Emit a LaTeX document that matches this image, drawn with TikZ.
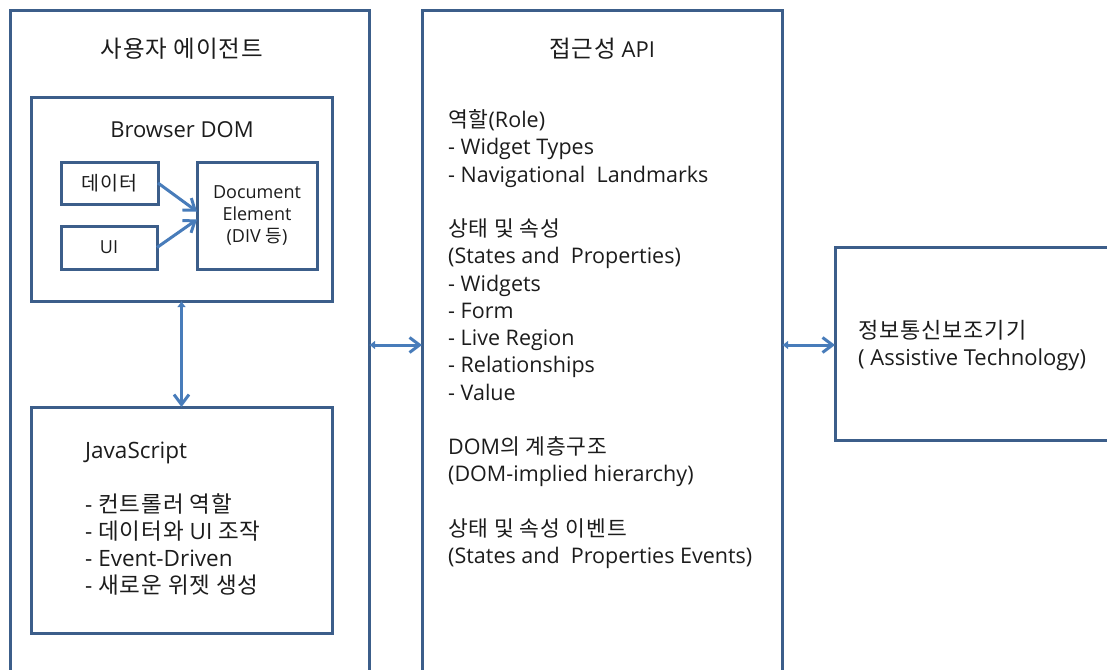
\documentclass[tikz,border=0pt]{standalone}
\usepackage{fontspec}
\setmainfont{Open Sans}
\newfontfamily\kofont{Noto Sans CJK KR}[LetterSpace=4]
\newcommand\ko[1]{{\kofont #1}}
\newcommand\kobig[1]{{\kofont\fontsize{23.5}{26}\selectfont #1}}
\usetikzlibrary{arrows.meta}

\definecolor{framecol}{RGB}{60,94,138}
\definecolor{linkcol}{RGB}{72,124,186}
\definecolor{inkcol}{RGB}{28,28,28}

\tikzset{
  frame/.style={draw=framecol, line width=3pt, inner sep=0pt, outer sep=0pt,
    anchor=north west, text=inkcol},
  item/.style={anchor=base west, inner sep=0pt, text=inkcol,
    font=\fontsize{21.5}{24}\selectfont},
  title/.style={anchor=base, inner sep=0pt, text=inkcol,
    font=\fontsize{22}{24}\selectfont},
  feed/.style={draw=linkcol, line width=3pt,
    -{Straight Barb[length=10pt,width=15pt]}},
  both/.style={draw=linkcol, line width=3pt,
    {Latex[length=6pt,width=9pt]}-{Straight Barb[length=10pt,width=15pt]}}
}

\begin{document}
\begin{tikzpicture}[x=1pt,y=-1pt]
\useasboundingbox (0,0) rectangle (1107,669);
\clip (0,0) rectangle (1107,669);

% outer frames
\node[frame, minimum width=359pt, minimum height=700pt] (agent) at (10,11) {};
\node[frame, minimum width=360pt, minimum height=700pt] (api) at (422,11) {};
\node[frame, minimum width=300pt, minimum height=193pt] (at) at (835,247) {};

% user agent parts
\node[frame, minimum width=301pt, minimum height=204pt] (dom) at (31,97) {};
\node[frame, minimum width=97pt, minimum height=42pt,
      font=\fontsize{19.5}{20}\selectfont] (data) at (61,162) {\ko{데이터}};
\node[frame, minimum width=96pt, minimum height=43pt,
      font=\fontsize{18}{20}\selectfont] (ui) at (61,226) {UI};
\node[frame, minimum width=120pt, minimum height=107pt, align=center,
      font=\fontsize{18}{22}\selectfont] (doc) at (197,162)
      {Document\\Element\\(DIV \ko{등})};
\node[frame, minimum width=301pt, minimum height=226pt] (js) at (31,407) {};

% titles
\node[title] (agenttitle) at (182,58) {\kobig{사용자 에이전트}};
\node[title] (domtitle) at (182,137) {Browser DOM};
\node[title] (apititle) at (602,58) {\kobig{접근성} API};

% javascript list
\foreach \n/\t in {0/JavaScript, 2/- \ko{컨트롤러 역할}, 3/- \ko{데이터와} UI \ko{조작},
                   4/- Event-Driven, 5/- \ko{새로운 위젯 생성}}
  \node[item, font=\fontsize{22.5}{24}\selectfont] (js-\n) at (85,458.5+27*\n) {\t};

% api list
\foreach \n/\t in {0/\ko{역할}(Role), 1/- Widget Types, 2/- Navigational\ \ Landmarks,
                   4/\ko{상태 및 속성}, 5/(States and\ \ Properties), 6/- Widgets,
                   7/- Form, 8/- Live Region, 9/- Relationships, 10/- Value,
                   12/DOM\ko{의 계층구조}, 13/(DOM-implied hierarchy),
                   15/\ko{상태 및 속성 이벤트}, 16/(States and\ \ Properties Events)}
  \node[item] (api-\n) at (448,127.5+27.25*\n) {\t};

% assistive technology
\node[item, font=\fontsize{22}{24}\selectfont] (attitle) at (858,338) {\ko{정보통신보조기기}};
\node[item, font=\fontsize{22}{24}\selectfont] (atsub) at (858,365) {( Assistive Technology)};

% connectors
\draw[feed] (data.east) -- ([yshift=4pt]doc.west);
\draw[feed] (ui.east) -- ([yshift=-4pt]doc.west);
\draw[both] (dom.south) -- (js.north);
\coordinate (level) at (0,345);
\draw[both] (agent.east |- level) -- (api.west |- level);
\draw[both] (api.east |- level) -- (at.west |- level);
\end{tikzpicture}
\end{document}
